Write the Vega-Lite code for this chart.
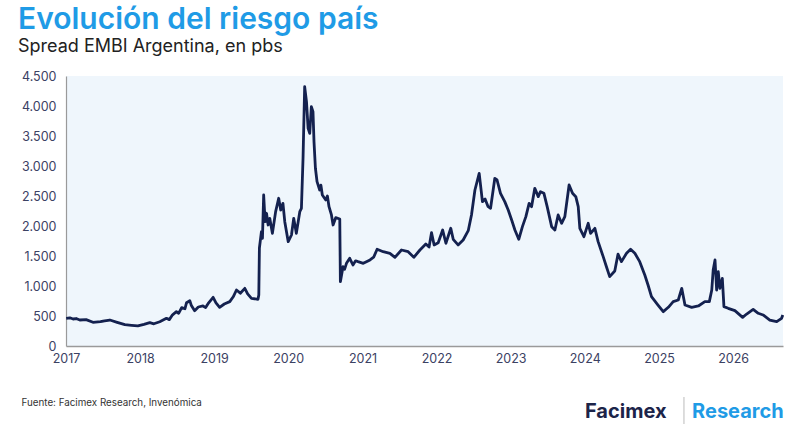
{
  "$schema": "https://vega.github.io/schema/vega-lite/v6.json",
  "autosize": "none",
  "width": 717,
  "height": 270,
  "padding": {"left": 66, "top": 76, "right": 17, "bottom": 90},
  "background": "white",
  "title": {
    "text": "Evolución del riesgo país",
    "subtitle": "Spread EMBI Argentina, en pbs",
    "anchor": "start",
    "frame": "group",
    "dx": -48,
    "offset": 14,
    "font": "Inter",
    "fontSize": 30,
    "fontWeight": 600,
    "color": "#1f9be6",
    "subtitleFont": "Inter",
    "subtitleFontSize": 18,
    "subtitleColor": "#222222",
    "subtitlePadding": 3
  },
  "config": {
    "view": {"fill": "#eff6fc", "stroke": null},
    "axis": {"labelFont": "Inter", "labelFontSize": 12.5, "labelColor": "#3b4163", "grid": false, "ticks": false, "domainColor": "#9a9a9a", "title": null, "labelOverlap": false}
  },
  "layer": [
    {
      "data": {"values": [
        {"date": "2017-01-02", "v": 462}, {"date": "2017-01-20", "v": 470}, {"date": "2017-02-05", "v": 450}, {"date": "2017-02-20", "v": 458}, {"date": "2017-03-10", "v": 433},
        {"date": "2017-04-10", "v": 440}, {"date": "2017-05-14", "v": 395}, {"date": "2017-06-20", "v": 405}, {"date": "2017-07-10", "v": 420},
        {"date": "2017-08-05", "v": 433}, {"date": "2017-09-10", "v": 395}, {"date": "2017-10-18", "v": 355},
        {"date": "2017-11-20", "v": 345}, {"date": "2017-12-21", "v": 335}, {"date": "2018-01-20", "v": 360},
        {"date": "2018-02-18", "v": 389}, {"date": "2018-03-10", "v": 370}, {"date": "2018-04-08", "v": 405}, {"date": "2018-05-11", "v": 461},
        {"date": "2018-05-25", "v": 440}, {"date": "2018-06-10", "v": 520}, {"date": "2018-06-29", "v": 572}, {"date": "2018-07-10", "v": 545}, {"date": "2018-07-25", "v": 640},
        {"date": "2018-08-10", "v": 620}, {"date": "2018-08-18", "v": 722}, {"date": "2018-09-03", "v": 755}, {"date": "2018-09-10", "v": 680}, {"date": "2018-09-27", "v": 589},
        {"date": "2018-10-15", "v": 650}, {"date": "2018-11-07", "v": 667}, {"date": "2018-11-20", "v": 640}, {"date": "2018-12-05", "v": 720},
        {"date": "2018-12-27", "v": 811}, {"date": "2019-01-10", "v": 720}, {"date": "2019-01-28", "v": 645}, {"date": "2019-02-20", "v": 700},
        {"date": "2019-03-19", "v": 739}, {"date": "2019-04-05", "v": 820}, {"date": "2019-04-21", "v": 933}, {"date": "2019-05-10", "v": 880},
        {"date": "2019-06-01", "v": 961}, {"date": "2019-06-15", "v": 870}, {"date": "2019-07-04", "v": 795}, {"date": "2019-08-05", "v": 778},
        {"date": "2019-08-09", "v": 850}, {"date": "2019-08-12", "v": 1633}, {"date": "2019-08-22", "v": 1906},
        {"date": "2019-08-27", "v": 1795}, {"date": "2019-09-02", "v": 2517}, {"date": "2019-09-09", "v": 2072},
        {"date": "2019-09-16", "v": 2212}, {"date": "2019-09-24", "v": 2017}, {"date": "2019-10-02", "v": 2128},
        {"date": "2019-10-15", "v": 1878}, {"date": "2019-10-31", "v": 2239}, {"date": "2019-11-15", "v": 2462},
        {"date": "2019-11-25", "v": 2267}, {"date": "2019-12-06", "v": 2378}, {"date": "2019-12-15", "v": 2072},
        {"date": "2020-01-01", "v": 1739}, {"date": "2020-01-17", "v": 1850}, {"date": "2020-01-28", "v": 2128},
        {"date": "2020-02-10", "v": 1878}, {"date": "2020-02-27", "v": 2239}, {"date": "2020-03-06", "v": 2295},
        {"date": "2020-03-14", "v": 3128}, {"date": "2020-03-22", "v": 4322}, {"date": "2020-03-31", "v": 4072},
        {"date": "2020-04-08", "v": 3628}, {"date": "2020-04-16", "v": 3545}, {"date": "2020-04-24", "v": 3989},
        {"date": "2020-05-02", "v": 3906}, {"date": "2020-05-07", "v": 3406}, {"date": "2020-05-14", "v": 2962},
        {"date": "2020-05-22", "v": 2739}, {"date": "2020-06-04", "v": 2600}, {"date": "2020-06-10", "v": 2680}, {"date": "2020-06-17", "v": 2517},
        {"date": "2020-07-04", "v": 2434}, {"date": "2020-07-12", "v": 2500}, {"date": "2020-07-20", "v": 2322}, {"date": "2020-08-01", "v": 2184},
        {"date": "2020-08-09", "v": 2017}, {"date": "2020-08-22", "v": 2139}, {"date": "2020-09-11", "v": 2117},
        {"date": "2020-09-14", "v": 1072}, {"date": "2020-09-27", "v": 1322}, {"date": "2020-10-05", "v": 1280}, {"date": "2020-10-14", "v": 1378},
        {"date": "2020-10-30", "v": 1462}, {"date": "2020-11-15", "v": 1350}, {"date": "2020-11-28", "v": 1420}, {"date": "2020-12-10", "v": 1406},
        {"date": "2021-01-05", "v": 1378}, {"date": "2021-02-07", "v": 1434}, {"date": "2021-02-25", "v": 1480}, {"date": "2021-03-14", "v": 1612},
        {"date": "2021-04-13", "v": 1572}, {"date": "2021-05-16", "v": 1545}, {"date": "2021-06-10", "v": 1478},
        {"date": "2021-07-12", "v": 1600}, {"date": "2021-08-14", "v": 1572}, {"date": "2021-09-11", "v": 1478},
        {"date": "2021-10-11", "v": 1600}, {"date": "2021-11-09", "v": 1700}, {"date": "2021-11-25", "v": 1650}, {"date": "2021-12-07", "v": 1889},
        {"date": "2021-12-20", "v": 1684}, {"date": "2022-01-09", "v": 1722}, {"date": "2022-01-31", "v": 1934},
        {"date": "2022-02-16", "v": 1712}, {"date": "2022-03-12", "v": 1962}, {"date": "2022-03-24", "v": 1778},
        {"date": "2022-04-17", "v": 1684}, {"date": "2022-05-12", "v": 1767}, {"date": "2022-06-06", "v": 1922},
        {"date": "2022-06-22", "v": 2184}, {"date": "2022-07-09", "v": 2600}, {"date": "2022-07-30", "v": 2878},
        {"date": "2022-08-15", "v": 2406}, {"date": "2022-08-28", "v": 2450}, {"date": "2022-09-12", "v": 2322}, {"date": "2022-09-24", "v": 2295},
        {"date": "2022-10-15", "v": 2795}, {"date": "2022-10-26", "v": 2767}, {"date": "2022-11-12", "v": 2545},
        {"date": "2022-12-03", "v": 2406}, {"date": "2022-12-20", "v": 2267}, {"date": "2023-01-06", "v": 2100},
        {"date": "2023-01-22", "v": 1934}, {"date": "2023-02-10", "v": 1778}, {"date": "2023-02-28", "v": 1989},
        {"date": "2023-03-17", "v": 2156}, {"date": "2023-04-02", "v": 2378}, {"date": "2023-04-14", "v": 2322},
        {"date": "2023-04-30", "v": 2628}, {"date": "2023-05-17", "v": 2489}, {"date": "2023-05-28", "v": 2572},
        {"date": "2023-06-14", "v": 2545}, {"date": "2023-06-30", "v": 2322}, {"date": "2023-07-22", "v": 1989},
        {"date": "2023-08-07", "v": 1934}, {"date": "2023-08-23", "v": 2184}, {"date": "2023-09-09", "v": 2045},
        {"date": "2023-09-25", "v": 2156}, {"date": "2023-10-16", "v": 2684}, {"date": "2023-11-02", "v": 2545},
        {"date": "2023-11-18", "v": 2489}, {"date": "2023-11-30", "v": 2322}, {"date": "2023-12-08", "v": 1962},
        {"date": "2023-12-28", "v": 1822}, {"date": "2024-01-18", "v": 2045}, {"date": "2024-01-30", "v": 1878},
        {"date": "2024-02-20", "v": 1962}, {"date": "2024-03-07", "v": 1739}, {"date": "2024-04-01", "v": 1489},
        {"date": "2024-04-17", "v": 1320}, {"date": "2024-05-03", "v": 1156}, {"date": "2024-05-28", "v": 1250},
        {"date": "2024-06-13", "v": 1530}, {"date": "2024-06-30", "v": 1406}, {"date": "2024-07-25", "v": 1545},
        {"date": "2024-08-14", "v": 1612}, {"date": "2024-09-04", "v": 1545}, {"date": "2024-09-28", "v": 1406},
        {"date": "2024-10-23", "v": 1184}, {"date": "2024-11-08", "v": 1017}, {"date": "2024-11-25", "v": 822},
        {"date": "2024-12-27", "v": 683}, {"date": "2025-01-22", "v": 572}, {"date": "2025-02-16", "v": 645},
        {"date": "2025-03-12", "v": 739}, {"date": "2025-04-06", "v": 767}, {"date": "2025-04-23", "v": 961},
        {"date": "2025-05-09", "v": 683}, {"date": "2025-06-11", "v": 645}, {"date": "2025-07-14", "v": 667},
        {"date": "2025-08-15", "v": 739}, {"date": "2025-09-06", "v": 739}, {"date": "2025-09-18", "v": 933},
        {"date": "2025-09-25", "v": 1267}, {"date": "2025-10-04", "v": 1434}, {"date": "2025-10-12", "v": 933},
        {"date": "2025-10-20", "v": 1239}, {"date": "2025-10-28", "v": 961}, {"date": "2025-11-09", "v": 1128},
        {"date": "2025-11-17", "v": 656}, {"date": "2025-12-08", "v": 628}, {"date": "2026-01-10", "v": 589},
        {"date": "2026-02-17", "v": 478}, {"date": "2026-03-09", "v": 533}, {"date": "2026-04-10", "v": 611},
        {"date": "2026-05-05", "v": 545}, {"date": "2026-05-29", "v": 517}, {"date": "2026-07-01", "v": 433},
        {"date": "2026-08-04", "v": 405}, {"date": "2026-08-28", "v": 461}, {"date": "2026-09-03", "v": 517}
      ]},
      "mark": {"type": "line", "color": "#14214f", "strokeWidth": 2.8, "strokeJoin": "round"},
      "encoding": {
        "x": {"field": "date", "type": "temporal",
              "scale": {"domain": ["2017-01-01", "2026-09-04"], "nice": false},
              "axis": {"format": "%Y", "tickCount": {"interval": "year", "step": 1}, "labelPadding": 6, "domainWidth": 1.5, "labelFlush": false}},
        "y": {"field": "v", "type": "quantitative",
              "scale": {"domain": [0, 4500], "nice": false},
              "axis": {"values": [0, 500, 1000, 1500, 2000, 2500, 3000, 3500, 4000, 4500], "labelOverlap": false, "labelExpr": "replace(format(datum.value, ','), ',', '.')", "labelPadding": 10, "domainWidth": 1.2}}
      }
    },
    {
      "data": {"values": [{}]},
      "mark": {"type": "text", "text": "Fuente: Facimex Research, Invenómica", "align": "left", "baseline": "middle", "font": "Inter", "fontSize": 9.8, "color": "#333333"},
      "encoding": {
        "x": {"datum": {"year": 2016, "month": 5, "date": 27}, "type": "temporal", "scale": {"domain": ["2017-01-01", "2026-09-04"], "nice": false},
              "axis": {"format": "%Y", "tickCount": {"interval": "year", "step": 1}, "labelPadding": 6, "domainWidth": 1.5, "labelFlush": false}},
        "y": {"datum": -950, "type": "quantitative", "scale": {"domain": [0, 4500], "nice": false},
              "axis": {"values": [0, 500, 1000, 1500, 2000, 2500, 3000, 3500, 4000, 4500], "labelOverlap": false, "labelExpr": "replace(format(datum.value, ','), ',', '.')", "labelPadding": 10, "domainWidth": 1.2}}
      }
    },
    {
      "data": {"values": [{}]},
      "mark": {"type": "text", "text": "Facimex", "align": "left", "baseline": "middle", "font": "Inter", "fontSize": 20, "fontWeight": "bold", "color": "#1c2449"},
      "encoding": {
        "x": {"datum": {"year": 2024, "month": 1, "date": 2}, "type": "temporal", "scale": {"domain": ["2017-01-01", "2026-09-04"], "nice": false},
              "axis": {"format": "%Y", "tickCount": {"interval": "year", "step": 1}, "labelPadding": 6, "domainWidth": 1.5, "labelFlush": false}},
        "y": {"datum": -1100, "type": "quantitative", "scale": {"domain": [0, 4500], "nice": false},
              "axis": {"values": [0, 500, 1000, 1500, 2000, 2500, 3000, 3500, 4000, 4500], "labelOverlap": false, "labelExpr": "replace(format(datum.value, ','), ',', '.')", "labelPadding": 10, "domainWidth": 1.2}}
      }
    },
    {
      "data": {"values": [{}]},
      "mark": {"type": "text", "text": "Research", "align": "left", "baseline": "middle", "font": "Inter", "fontSize": 20, "fontWeight": "bold", "color": "#1f9be6"},
      "encoding": {
        "x": {"datum": {"year": 2025, "month": 6, "date": 13}, "type": "temporal", "scale": {"domain": ["2017-01-01", "2026-09-04"], "nice": false},
              "axis": {"format": "%Y", "tickCount": {"interval": "year", "step": 1}, "labelPadding": 6, "domainWidth": 1.5, "labelFlush": false}},
        "y": {"datum": -1100, "type": "quantitative", "scale": {"domain": [0, 4500], "nice": false},
              "axis": {"values": [0, 500, 1000, 1500, 2000, 2500, 3000, 3500, 4000, 4500], "labelOverlap": false, "labelExpr": "replace(format(datum.value, ','), ',', '.')", "labelPadding": 10, "domainWidth": 1.2}}
      }
    },
    {
      "data": {"values": [{}]},
      "mark": {"type": "rule", "color": "#bbbbbb", "strokeWidth": 1},
      "encoding": {
        "x": {"datum": {"year": 2025, "month": 5, "date": 4}, "type": "temporal", "scale": {"domain": ["2017-01-01", "2026-09-04"], "nice": false},
              "axis": {"format": "%Y", "tickCount": {"interval": "year", "step": 1}, "labelPadding": 6, "domainWidth": 1.5, "labelFlush": false}},
        "y": {"datum": -850, "type": "quantitative", "scale": {"domain": [0, 4500], "nice": false},
              "axis": {"values": [0, 500, 1000, 1500, 2000, 2500, 3000, 3500, 4000, 4500], "labelOverlap": false, "labelExpr": "replace(format(datum.value, ','), ',', '.')", "labelPadding": 10, "domainWidth": 1.2}},
        "y2": {"datum": -1300}
      }
    }
  ]
}
